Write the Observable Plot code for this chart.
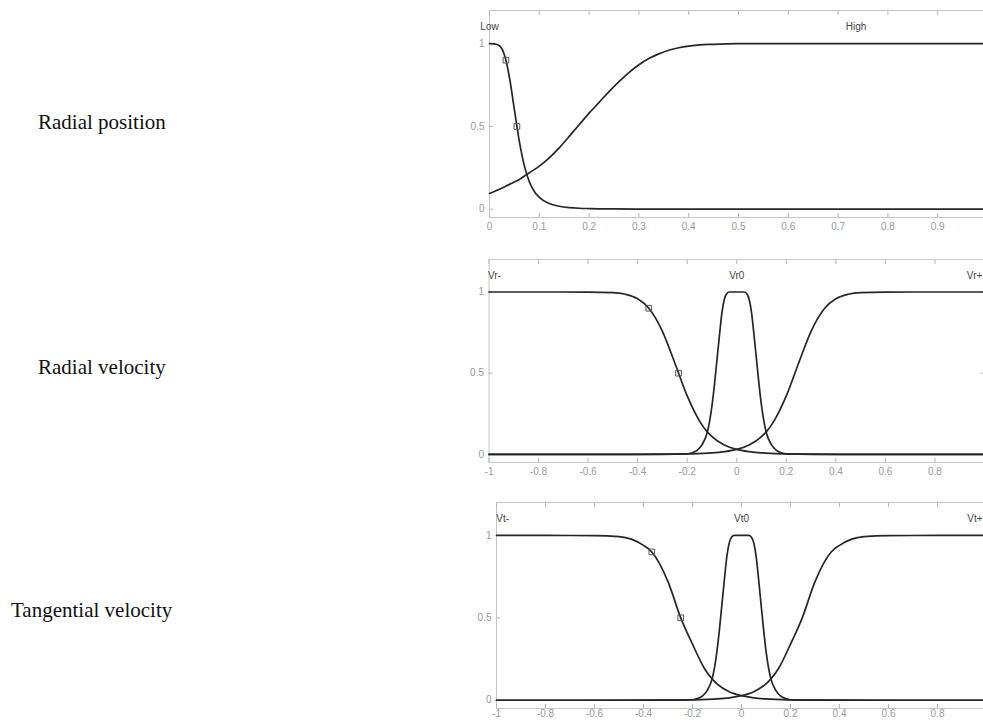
<!DOCTYPE html>
<html><head><meta charset="utf-8">
<script src="https://cdn.jsdelivr.net/npm/d3@7"></script>
<script src="https://cdn.jsdelivr.net/npm/@observablehq/plot@0.6"></script>
<style>
html,body{margin:0;padding:0;background:#fff;}
#root{position:relative;width:983px;height:722px;overflow:hidden;background:#fff;}
.side{position:absolute;font-family:"Liberation Serif","Times New Roman",serif;font-size:21px;color:#111;white-space:nowrap;line-height:1;}
.panel{position:absolute;}
.panel svg{max-width:none !important;display:block;}
</style></head><body><div id="root"></div>
<script>
// ---- Panel titles ----
const panelTitles = ["Radial position", "Radial velocity", "Tangential velocity"];

// ---- Axis ticks (marks) and tick labels (those visible in the picture) ----
const rpTicks = [0, 0.1, 0.2, 0.3, 0.4, 0.5, 0.6, 0.7, 0.8, 0.9, 1];
const rpTickLabels = [0, 0.1, 0.2, 0.3, 0.4, 0.5, 0.6, 0.7, 0.8, 0.9];
const vTicks = [-1, -0.8, -0.6, -0.4, -0.2, 0, 0.2, 0.4, 0.6, 0.8, 1];
const vTickLabels = [-1, -0.8, -0.6, -0.4, -0.2, 0, 0.2, 0.4, 0.6, 0.8];
const yTicks = [0, 0.5, 1];

// ---- Radial position membership functions ----
const rpLowX  = [0, 0.01, 0.02, 0.03, 0.04, 0.05, 0.06, 0.07, 0.08, 0.09, 0.1, 0.12, 0.14, 0.16, 0.18, 0.2, 0.25, 0.3, 0.4, 0.5, 1];
const rpLowY  = [1, 0.999, 0.987, 0.931, 0.797, 0.601, 0.408, 0.262, 0.166, 0.107, 0.071, 0.034, 0.018, 0.01, 0.006, 0.004, 0.0015, 0.0007, 0.0002, 0, 0];
const rpHighX = [0, 0.02, 0.04, 0.06, 0.08, 0.1, 0.12, 0.14, 0.16, 0.18, 0.2, 0.22, 0.24, 0.26, 0.28, 0.3, 0.32, 0.34, 0.36, 0.38, 0.4, 0.45, 0.5, 0.6, 1];
const rpHighY = [0.095, 0.12, 0.15, 0.18, 0.22, 0.26, 0.31, 0.37, 0.44, 0.51, 0.58, 0.645, 0.71, 0.77, 0.825, 0.872, 0.91, 0.938, 0.96, 0.975, 0.985, 0.996, 1, 1, 1];
const rpMarkX = [0.033, 0.055];
const rpMarkY = [0.9, 0.5];
const rpNames = ["Low", "High"];
const rpNameX = [0, 0.736];

// ---- Radial velocity membership functions ----
const vrNegX  = [-1, -0.8, -0.6, -0.5, -0.45, -0.4, -0.355, -0.3, -0.25, -0.2, -0.15, -0.12, -0.1, -0.05, 0, 0.05, 0.1, 0.2, 0.3, 0.5, 1];
const vrNegY  = [1, 1, 0.9997, 0.996, 0.986, 0.958, 0.9, 0.758, 0.563, 0.36, 0.205, 0.14, 0.11, 0.058, 0.031, 0.017, 0.009, 0.003, 0.001, 0, 0];
const vrZeroX = [-1, -0.3, -0.2, -0.18, -0.16, -0.14, -0.12, -0.11, -0.1, -0.09, -0.08, -0.07, -0.06, -0.05, -0.04, -0.03, 0, 0.03, 0.04, 0.05, 0.06, 0.07, 0.08, 0.09, 0.1, 0.11, 0.12, 0.14, 0.16, 0.18, 0.2, 0.3, 1];
const vrZeroY = [0, 0.0005, 0.003, 0.01, 0.025, 0.06, 0.13, 0.2, 0.3, 0.43, 0.58, 0.73, 0.87, 0.955, 0.99, 1, 1, 1, 0.99, 0.955, 0.87, 0.73, 0.58, 0.43, 0.3, 0.2, 0.13, 0.06, 0.025, 0.01, 0.003, 0.0005, 0];
const vrPosX  = [-1, -0.5, -0.3, -0.2, -0.1, -0.05, 0, 0.05, 0.1, 0.12, 0.15, 0.2, 0.25, 0.3, 0.355, 0.4, 0.45, 0.5, 0.6, 0.8, 1];
const vrPosY  = [0, 0, 0.001, 0.003, 0.009, 0.017, 0.031, 0.058, 0.11, 0.14, 0.205, 0.36, 0.563, 0.758, 0.9, 0.958, 0.986, 0.996, 0.9997, 1, 1];
const vrMarkX = [-0.355, -0.235];
const vrMarkY = [0.9, 0.5];
const vrNames = ["Vr-", "Vr0", "Vr+"];
const vrNameX = [-0.978, 0, 0.96];

// ---- Tangential velocity membership functions ----
const vtNegX  = [-1, -0.8, -0.6, -0.5, -0.45, -0.4, -0.366, -0.3, -0.248, -0.2, -0.15, -0.12, -0.1, -0.05, 0, 0.05, 0.1, 0.2, 0.3, 0.5, 1];
const vtNegY  = [1, 1, 0.9995, 0.993, 0.978, 0.94, 0.9, 0.72, 0.5, 0.34, 0.19, 0.13, 0.1, 0.052, 0.028, 0.015, 0.008, 0.0025, 0.001, 0, 0];
const vtZeroX = [-1, -0.3, -0.2, -0.18, -0.16, -0.14, -0.12, -0.11, -0.1, -0.09, -0.08, -0.07, -0.06, -0.05, -0.04, -0.03, 0, 0.03, 0.04, 0.05, 0.06, 0.07, 0.08, 0.09, 0.1, 0.11, 0.12, 0.14, 0.16, 0.18, 0.2, 0.3, 1];
const vtZeroY = [0, 0.0005, 0.003, 0.01, 0.025, 0.06, 0.13, 0.2, 0.3, 0.43, 0.58, 0.73, 0.87, 0.955, 0.99, 1, 1, 1, 0.99, 0.955, 0.87, 0.73, 0.58, 0.43, 0.3, 0.2, 0.13, 0.06, 0.025, 0.01, 0.003, 0.0005, 0];
const vtPosX  = [-1, -0.5, -0.3, -0.2, -0.1, -0.05, 0, 0.05, 0.1, 0.12, 0.15, 0.2, 0.248, 0.3, 0.366, 0.4, 0.45, 0.5, 0.6, 0.8, 1];
const vtPosY  = [0, 0, 0.001, 0.0025, 0.008, 0.015, 0.028, 0.052, 0.1, 0.13, 0.19, 0.34, 0.5, 0.72, 0.9, 0.94, 0.978, 0.993, 0.9995, 1, 1];
const vtMarkX = [-0.366, -0.248];
const vtMarkY = [0.9, 0.5];
const vtNames = ["Vt-", "Vt0", "Vt+"];
const vtNameX = [-0.975, 0, 0.953];

// ---- helpers ----
const pts = (xs, ys) => xs.map((x, i) => ({x, y: ys[i]}));
const AX = "#b4b4b4";
const FONT = "'Liberation Sans', Arial, Helvetica, sans-serif";

function panel(cfg) {
  const {xDomain, xTicks, xLabels, lines, markX, markY, names, nameX, frame, svgLeft, svgTop, pad} = cfg;
  const svgW = Math.round(frame.right - svgLeft + 6);
  const svgH = Math.round(frame.bottom - svgTop + 22);
  const chart = Plot.plot({
    width: svgW,
    height: svgH,
    marginLeft: frame.left - svgLeft,
    marginRight: svgW - (frame.right - svgLeft),
    marginTop: frame.top - svgTop,
    marginBottom: svgH - (frame.bottom - svgTop),
    x: {domain: xDomain, axis: null},
    y: {domain: [-0.05, 1.2], axis: null},
    style: {fontFamily: FONT, fontSize: "10px", background: "transparent", overflow: "visible", maxWidth: "none"},
    marks: [
      Plot.frame({stroke: "#c6c6c6"}),
      Plot.axisX({anchor: "bottom", ticks: xTicks, tickSize: 4, dy: -4, fill: "none", stroke: AX, label: null}),
      Plot.axisX({anchor: "top", ticks: xTicks, tickSize: 4, dy: 4, fill: "none", stroke: AX, label: null}),
      Plot.axisY({anchor: "left", ticks: yTicks, tickSize: 4, dx: 4, fill: "none", stroke: AX, label: null}),
      Plot.axisY({anchor: "right", ticks: yTicks, tickSize: 4, dx: -4, fill: "none", stroke: AX, label: null}),
      Plot.axisX({anchor: "bottom", ticks: xLabels, tickSize: 0, tickPadding: pad, tickFormat: d => String(d), fill: "#999", label: null}),
      Plot.axisY({anchor: "left", ticks: yTicks, tickSize: 0, tickPadding: 5, tickFormat: d => String(d), fill: "#999", label: null}),
      ...lines.map(([xs, ys]) => Plot.line(pts(xs, ys), {x: "x", y: "y", stroke: "#262626", strokeWidth: 1.7, curve: "monotone-x"})),
      Plot.dot(pts(markX, markY), {x: "x", y: "y", symbol: "square", r: 3.2, stroke: "#555", fill: "none", strokeWidth: 1}),
      Plot.text(names.map((t, i) => ({t, x: nameX[i], y: 1.1})), {x: "x", y: "y", text: "t", fill: "#444", fontSize: 10})
    ]
  });
  const wrap = document.createElement("div");
  wrap.className = "panel";
  wrap.style.left = svgLeft + "px";
  wrap.style.top = svgTop + "px";
  wrap.style.width = svgW + "px";
  wrap.style.height = svgH + "px";
  wrap.appendChild(chart);
  document.getElementById("root").appendChild(wrap);
}

panel({
  xDomain: [0, 1], xTicks: rpTicks, xLabels: rpTickLabels, pad: 5,
  lines: [[rpLowX, rpLowY], [rpHighX, rpHighY]],
  markX: rpMarkX, markY: rpMarkY, names: rpNames, nameX: rpNameX,
  frame: {left: 489, right: 987, top: 10, bottom: 217}, svgLeft: 440, svgTop: 0
});
panel({
  xDomain: [-1, 1], xTicks: vTicks, xLabels: vTickLabels, pad: 5,
  lines: [[vrNegX, vrNegY], [vrZeroX, vrZeroY], [vrPosX, vrPosY]],
  markX: vrMarkX, markY: vrMarkY, names: vrNames, nameX: vrNameX,
  frame: {left: 488.5, right: 984, top: 259, bottom: 462}, svgLeft: 440, svgTop: 245
});
panel({
  xDomain: [-1, 1], xTicks: vTicks, xLabels: vTickLabels, pad: 1,
  lines: [[vtNegX, vtNegY], [vtZeroX, vtZeroY], [vtPosX, vtPosY]],
  markX: vtMarkX, markY: vtMarkY, names: vtNames, nameX: vtNameX,
  frame: {left: 496, right: 986, top: 502, bottom: 708}, svgLeft: 440, svgTop: 490
});

// ---- side titles ----
const titlePos = [[38, 112], [38, 357], [11, 600]];
panelTitles.forEach((t, i) => {
  const d = document.createElement("div");
  d.className = "side";
  d.textContent = t;
  d.style.left = titlePos[i][0] + "px";
  d.style.top = titlePos[i][1] + "px";
  document.getElementById("root").appendChild(d);
});
</script></body></html>
